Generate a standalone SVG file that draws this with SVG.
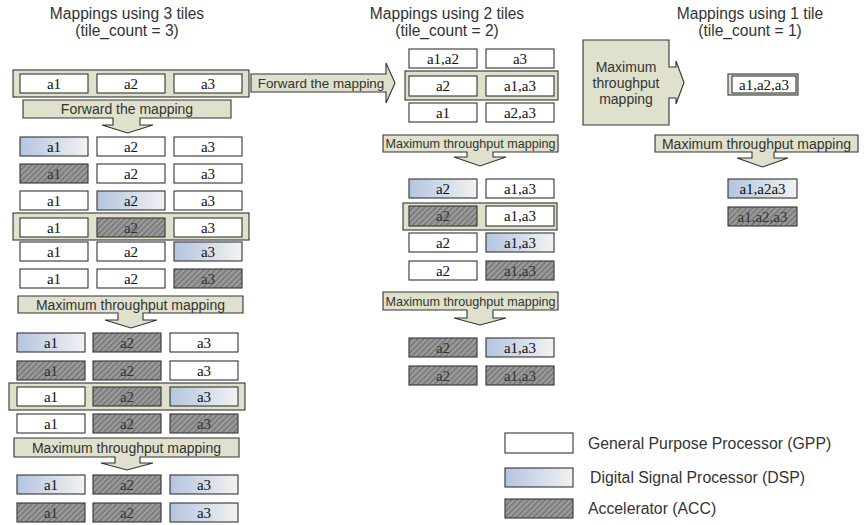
<svg xmlns="http://www.w3.org/2000/svg" width="864" height="525" viewBox="0 0 864 525">
<style>
.gpp{fill:#fff;stroke:#333;stroke-width:1.1}
.dsp{fill:url(#dspg);stroke:#333;stroke-width:1.1}
.acc{fill:url(#hatch);stroke:#333;stroke-width:1.1}
.frame{fill:#dfe1cc;stroke:#333;stroke-width:1.1}
.arrow{fill:#dfe1cc;stroke:#333;stroke-width:1.1}
.lbl{font-family:"Liberation Serif","Times New Roman",serif;font-size:15px;text-anchor:middle;fill:#111}
.lbla{font-family:"Liberation Serif","Times New Roman",serif;font-size:15px;text-anchor:middle;fill:#333}
.title{font-family:"Liberation Sans",Arial,sans-serif;font-size:15.6px;text-anchor:middle;fill:#333}
.atxt{font-family:"Liberation Sans",Arial,sans-serif;font-size:14px;text-anchor:middle;fill:#333}
.atxs{font-family:"Liberation Sans",Arial,sans-serif;font-size:12.6px;text-anchor:middle;fill:#333}
.leg{font-family:"Liberation Sans",Arial,sans-serif;font-size:15.8px;fill:#333}
</style>
<defs>
<linearGradient id="dspg" x1="0" y1="0" x2="1" y2="0">
<stop offset="0" stop-color="#b3c5df"/>
<stop offset="1" stop-color="#f2f2f2"/>
</linearGradient>
<pattern id="hatch" width="4" height="4" patternUnits="userSpaceOnUse" patternTransform="rotate(45)">
<rect width="4" height="4" fill="#7d7d7d"/>
<line x1="1" y1="0" x2="1" y2="4" stroke="#a9a9a9" stroke-width="1.4"/>
</pattern>
</defs>
<rect width="864" height="525" fill="#fff"/>

<!-- Titles -->
<g id="title3">
<text class="title" x="127" y="19">Mappings using 3 tiles</text>
<text class="title" x="127" y="36">(tile_count = 3)</text>
</g>
<g id="title2">
<text class="title" x="447" y="19">Mappings using 2 tiles</text>
<text class="title" x="447" y="36">(tile_count = 2)</text>
</g>
<g id="title1">
<text class="title" x="750" y="19">Mappings using 1 tile</text>
<text class="title" x="750" y="36">(tile_count = 1)</text>
</g>

<!-- Connectors (arrows) -->
<g id="connectors">
<path class="arrow" d="M23,100 H231 V118 H140 V125 H153 L127.5,133 L102,125 H113 V118 H23 Z"/>
<text class="atxt" x="127" y="114">Forward the mapping</text>
<path class="arrow" d="M18,296 H243 V313 H143 V320 H157 L131,328 L105,320 H118 V313 H18 Z"/>
<text class="atxt" x="130.5" y="309.5">Maximum throughput mapping</text>
<path class="arrow" d="M14,438 H239 V457 H140 V463 H153 L127,470 L101,463 H115 V457 H14 Z"/>
<text class="atxt" x="126.5" y="452.5">Maximum throughput mapping</text>
<path class="arrow" d="M251,74 H386 V63 L395,83 L386,103 V92 H251 Z"/>
<text class="atxt" x="321" y="88" style="font-size:13.4px">Forward the mapping</text>
<path class="arrow" d="M383,135 H558 V152 H493 V157 H506 L480,166 L454,157 H467 V152 H383 Z"/>
<text class="atxs" x="470.5" y="148">Maximum throughput mapping</text>
<path class="arrow" d="M383,292 H558 V310 H493 V318 H506 L480,325 L454,318 H467 V310 H383 Z"/>
<text class="atxs" x="470.5" y="305.5">Maximum throughput mapping</text>
<path class="arrow" d="M583,40 H669 V67 H676 V61 L684,82.5 L676,104 V98 H669 V125 H583 Z"/>
<text class="atxt" x="626" y="72">Maximum</text>
<text class="atxt" x="626" y="88">throughput</text>
<text class="atxt" x="626" y="104">mapping</text>
<path class="arrow" d="M655,135 H858 V152 H774 V158 H788 L762.5,167 L737,158 H752 V152 H655 Z"/>
<text class="atxt" x="756.5" y="148.5">Maximum throughput mapping</text>
</g>

<!-- Frames -->
<g id="frames">
<rect class="frame" x="13" y="70" width="236" height="27"/>
<rect class="frame" x="13" y="213" width="236" height="27"/>
<rect class="frame" x="9" y="383" width="236" height="27"/>
<rect class="frame" x="405" y="71" width="153" height="29"/>
<rect class="frame" x="403" y="203" width="154" height="27"/>
<rect class="frame" x="728" y="74" width="70" height="21"/>
</g>

<!-- Left column, upper -->
<g id="r1a1"><rect class="gpp" x="20" y="74" width="68" height="19"/><text class="lbl" x="54" y="88.5">a1</text></g>
<g id="r1a2"><rect class="gpp" x="97" y="74" width="68" height="19"/><text class="lbl" x="131" y="88.5">a2</text></g>
<g id="r1a3"><rect class="gpp" x="174" y="74" width="68" height="19"/><text class="lbl" x="208" y="88.5">a3</text></g>

<g id="r2a1"><rect class="dsp" x="20" y="137" width="68" height="19"/><text class="lbl" x="54" y="151.5">a1</text></g>
<g id="r2a2"><rect class="gpp" x="97" y="137" width="68" height="19"/><text class="lbl" x="131" y="151.5">a2</text></g>
<g id="r2a3"><rect class="gpp" x="174" y="137" width="68" height="19"/><text class="lbl" x="208" y="151.5">a3</text></g>

<g id="r3a1"><rect class="acc" x="20" y="164" width="68" height="19"/><text class="lbla" x="54" y="178.5">a1</text></g>
<g id="r3a2"><rect class="gpp" x="97" y="164" width="68" height="19"/><text class="lbl" x="131" y="178.5">a2</text></g>
<g id="r3a3"><rect class="gpp" x="174" y="164" width="68" height="19"/><text class="lbl" x="208" y="178.5">a3</text></g>

<g id="r4a1"><rect class="gpp" x="20" y="191" width="68" height="19"/><text class="lbl" x="54" y="205.5">a1</text></g>
<g id="r4a2"><rect class="dsp" x="97" y="191" width="68" height="19"/><text class="lbl" x="131" y="205.5">a2</text></g>
<g id="r4a3"><rect class="gpp" x="174" y="191" width="68" height="19"/><text class="lbl" x="208" y="205.5">a3</text></g>

<g id="r5a1"><rect class="gpp" x="20" y="218" width="68" height="19"/><text class="lbl" x="54" y="232.5">a1</text></g>
<g id="r5a2"><rect class="acc" x="97" y="218" width="68" height="19"/><text class="lbla" x="131" y="232.5">a2</text></g>
<g id="r5a3"><rect class="gpp" x="174" y="218" width="68" height="19"/><text class="lbl" x="208" y="232.5">a3</text></g>

<g id="r6a1"><rect class="gpp" x="20" y="242" width="68" height="19"/><text class="lbl" x="54" y="256.5">a1</text></g>
<g id="r6a2"><rect class="gpp" x="97" y="242" width="68" height="19"/><text class="lbl" x="131" y="256.5">a2</text></g>
<g id="r6a3"><rect class="dsp" x="174" y="242" width="68" height="19"/><text class="lbl" x="208" y="256.5">a3</text></g>

<g id="r7a1"><rect class="gpp" x="20" y="269" width="68" height="19"/><text class="lbl" x="54" y="283.5">a1</text></g>
<g id="r7a2"><rect class="gpp" x="97" y="269" width="68" height="19"/><text class="lbl" x="131" y="283.5">a2</text></g>
<g id="r7a3"><rect class="acc" x="174" y="269" width="68" height="19"/><text class="lbla" x="208" y="283.5">a3</text></g>

<!-- Left column, lower -->
<g id="l1a1"><rect class="dsp" x="17" y="333" width="68" height="19"/><text class="lbl" x="51" y="347.5">a1</text></g>
<g id="l1a2"><rect class="acc" x="93" y="333" width="68" height="19"/><text class="lbla" x="127" y="347.5">a2</text></g>
<g id="l1a3"><rect class="gpp" x="170" y="333" width="68" height="19"/><text class="lbl" x="204" y="347.5">a3</text></g>

<g id="l2a1"><rect class="acc" x="17" y="361" width="68" height="19"/><text class="lbla" x="51" y="375.5">a1</text></g>
<g id="l2a2"><rect class="acc" x="93" y="361" width="68" height="19"/><text class="lbla" x="127" y="375.5">a2</text></g>
<g id="l2a3"><rect class="gpp" x="170" y="361" width="68" height="19"/><text class="lbl" x="204" y="375.5">a3</text></g>

<g id="l3a1"><rect class="gpp" x="17" y="387" width="68" height="19"/><text class="lbl" x="51" y="401.5">a1</text></g>
<g id="l3a2"><rect class="acc" x="93" y="387" width="68" height="19"/><text class="lbla" x="127" y="401.5">a2</text></g>
<g id="l3a3"><rect class="dsp" x="170" y="387" width="68" height="19"/><text class="lbl" x="204" y="401.5">a3</text></g>

<g id="l4a1"><rect class="gpp" x="17" y="414" width="68" height="19"/><text class="lbl" x="51" y="428.5">a1</text></g>
<g id="l4a2"><rect class="acc" x="93" y="414" width="68" height="19"/><text class="lbla" x="127" y="428.5">a2</text></g>
<g id="l4a3"><rect class="acc" x="170" y="414" width="68" height="19"/><text class="lbla" x="204" y="428.5">a3</text></g>

<g id="l5a1"><rect class="dsp" x="17" y="475" width="68" height="19"/><text class="lbl" x="51" y="489.5">a1</text></g>
<g id="l5a2"><rect class="acc" x="93" y="475" width="68" height="19"/><text class="lbla" x="127" y="489.5">a2</text></g>
<g id="l5a3"><rect class="dsp" x="170" y="475" width="68" height="19"/><text class="lbl" x="204" y="489.5">a3</text></g>

<g id="l6a1"><rect class="acc" x="17" y="503" width="68" height="19"/><text class="lbla" x="51" y="517.5">a1</text></g>
<g id="l6a2"><rect class="acc" x="93" y="503" width="68" height="19"/><text class="lbla" x="127" y="517.5">a2</text></g>
<g id="l6a3"><rect class="dsp" x="170" y="503" width="68" height="19"/><text class="lbl" x="204" y="517.5">a3</text></g>

<!-- Middle column -->
<g id="m1a"><rect class="gpp" x="409" y="49" width="68" height="19"/><text class="lbl" x="443" y="63.5">a1,a2</text></g>
<g id="m1b"><rect class="gpp" x="486" y="49" width="68" height="19"/><text class="lbl" x="520" y="63.5">a3</text></g>
<g id="m2a"><rect class="gpp" x="409" y="76" width="68" height="20"/><text class="lbl" x="443" y="91">a2</text></g>
<g id="m2b"><rect class="gpp" x="486" y="76" width="68" height="20"/><text class="lbl" x="520" y="91">a1,a3</text></g>
<g id="m3a"><rect class="gpp" x="409" y="103" width="68" height="19"/><text class="lbl" x="443" y="117.5">a1</text></g>
<g id="m3b"><rect class="gpp" x="486" y="103" width="68" height="19"/><text class="lbl" x="520" y="117.5">a2,a3</text></g>

<g id="m4a"><rect class="dsp" x="409" y="179" width="68" height="19"/><text class="lbl" x="443" y="193.5">a2</text></g>
<g id="m4b"><rect class="gpp" x="486" y="179" width="68" height="19"/><text class="lbl" x="520" y="193.5">a1,a3</text></g>
<g id="m5a"><rect class="acc" x="409" y="206" width="68" height="20"/><text class="lbla" x="443" y="221">a2</text></g>
<g id="m5b"><rect class="gpp" x="486" y="206" width="68" height="20"/><text class="lbl" x="520" y="221">a1,a3</text></g>
<g id="m6a"><rect class="gpp" x="409" y="233" width="68" height="19"/><text class="lbl" x="443" y="247.5">a2</text></g>
<g id="m6b"><rect class="dsp" x="486" y="233" width="68" height="19"/><text class="lbl" x="520" y="247.5">a1,a3</text></g>
<g id="m7a"><rect class="gpp" x="409" y="261" width="68" height="19"/><text class="lbl" x="443" y="275.5">a2</text></g>
<g id="m7b"><rect class="acc" x="486" y="261" width="68" height="19"/><text class="lbla" x="520" y="275.5">a1,a3</text></g>

<g id="m8a"><rect class="acc" x="409" y="338" width="68" height="19"/><text class="lbla" x="443" y="352.5">a2</text></g>
<g id="m8b"><rect class="dsp" x="486" y="338" width="68" height="19"/><text class="lbl" x="520" y="352.5">a1,a3</text></g>
<g id="m9a"><rect class="acc" x="409" y="366" width="68" height="19"/><text class="lbla" x="443" y="380.5">a2</text></g>
<g id="m9b"><rect class="acc" x="486" y="366" width="68" height="19"/><text class="lbla" x="520" y="380.5">a1,a3</text></g>

<!-- Right column -->
<g id="t1"><rect class="gpp" x="732" y="76" width="64" height="17"/><text class="lbl" x="764" y="89.5">a1,a2,a3</text></g>
<g id="t2"><rect class="dsp" x="728" y="179" width="69" height="19"/><text class="lbl" x="762.5" y="193.5">a1,a2a3</text></g>
<g id="t3"><rect class="acc" x="728" y="207" width="69" height="19"/><text class="lbla" x="762.5" y="221.5">a1,a2,a3</text></g>

<!-- Legend -->
<g id="legend-gpp"><rect class="gpp" x="505" y="433" width="68" height="20"/><text class="leg" x="588" y="448.5">General Purpose Processor (GPP)</text></g>
<g id="legend-dsp"><rect class="dsp" x="505" y="468" width="68" height="19"/><text class="leg" x="590" y="483">Digital Signal Processor (DSP)</text></g>
<g id="legend-acc"><rect class="acc" x="505" y="499" width="68" height="19"/><text class="leg" x="588" y="514">Accelerator (ACC)</text></g>
</svg>
